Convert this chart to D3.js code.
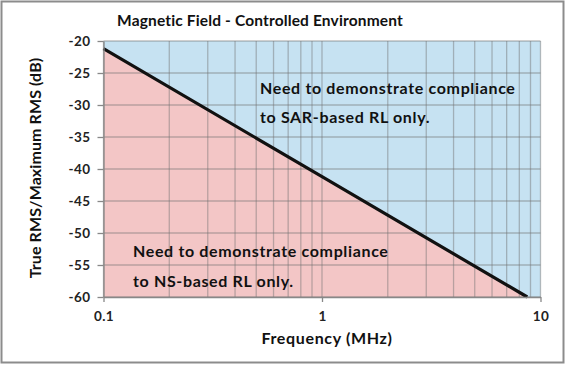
<!DOCTYPE html>
<html><head><meta charset="utf-8">
<script src="https://cdn.jsdelivr.net/npm/d3@7"></script>
<style>html,body{margin:0;padding:0;background:#fff}</style>
</head><body>
<svg id="c" width="566" height="365"></svg>
<script>
const title = "Magnetic Field - Controlled Environment";
const xLabel = "Frequency (MHz)";
const yLabel = "True RMS/Maximum RMS (dB)";
const lineFreq = [0.1, 1, 8.7];
const lineDb = [-21.2, -41.2, -60];
const yTicks = [-20, -25, -30, -35, -40, -45, -50, -55, -60];
const yTickLabels = ["-20", "-25", "-30", "-35", "-40", "-45", "-50", "-55", "-60"];
const xTicks = [0.1, 1, 10];
const xTickLabels = ["0.1", "1", "10"];
const upperText = ["Need to demonstrate compliance", "to SAR-based RL only."];
const lowerText = ["Need to demonstrate compliance", "to NS-based RL only."];

const font = "Lato, 'Open Sans', sans-serif";
const svg = d3.select("#c");
const L = 103.5, R = 540.5, T = 41, B = 297;
const x = d3.scaleLog().domain([0.1, 10]).range([L, R]);
const y = d3.scaleLinear().domain([-60, -20]).range([B, T]);

svg.append("rect").attr("x", 1.5).attr("y", 1.5).attr("width", 562).attr("height", 361)
  .attr("fill", "#fff").attr("stroke", "#8c8c8c").attr("stroke-width", 2);

// background blue
svg.append("rect").attr("x", L).attr("y", T).attr("width", R - L).attr("height", B - T).attr("fill", "#c6e2f2");
// pink area under line
const pts = lineFreq.map((f, i) => [f, lineDb[i]]);
const area = d3.area().x(d => x(d[0])).y0(y(-60)).y1(d => y(d[1]));
svg.append("path").datum(pts).attr("d", area).attr("fill", "#f3c6c6");

// grid
const minor = [];
[0.1, 1].forEach(d => { for (let k = 1; k <= 9; k++) minor.push(d * k); });
minor.push(10);
const g = svg.append("g").attr("stroke", "#707070").attr("stroke-opacity", 0.45).attr("stroke-width", 1.3);
minor.forEach(v => g.append("line").attr("x1", x(v)).attr("x2", x(v)).attr("y1", T).attr("y2", B));
yTicks.forEach(v => g.append("line").attr("x1", L).attr("x2", R).attr("y1", y(v)).attr("y2", y(v)));

// line
svg.append("path").datum(pts).attr("d", d3.line().x(d => x(d[0])).y(d => y(d[1])))
  .attr("fill", "none").attr("stroke", "#111").attr("stroke-width", 3.2);

// axes
const yAxis = d3.axisLeft(y).tickValues(yTicks).tickSize(6).tickSizeOuter(0).tickFormat((d, i) => yTickLabels[i]);
const ya = svg.append("g").attr("transform", `translate(${L},0)`).call(yAxis);
const xAxis = d3.axisBottom(x).tickValues(xTicks).tickSize(5).tickSizeOuter(0).tickFormat((d, i) => xTickLabels[i]);
const xa = svg.append("g").attr("transform", `translate(0,${B})`).call(xAxis);
[ya, xa].forEach(a => {
  a.select(".domain").attr("stroke", "#888").attr("stroke-width", 1.3);
  a.selectAll(".tick line").attr("stroke", "#888").attr("stroke-width", 1.3);
  a.selectAll("text").attr("font-family", font).attr("font-weight", "bold").attr("font-size", 13.5)
    .attr("letter-spacing", 0.4).attr("fill", "#222");
});
ya.selectAll("text").attr("x", -13).attr("dy", "0.36em");
xa.selectAll("text").attr("y", 14).attr("dy", "0.71em");

// titles
svg.append("text").attr("x", 260).attr("y", 26).attr("text-anchor", "middle")
  .attr("font-family", font).attr("font-weight", "bold").attr("font-size", 15.5).attr("letter-spacing", 0.15)
  .attr("fill", "#111").text(title);
svg.append("text").attr("x", 327).attr("y", 344).attr("text-anchor", "middle")
  .attr("font-family", font).attr("font-weight", "bold").attr("font-size", 16).attr("letter-spacing", 0.65)
  .attr("fill", "#111").text(xLabel);
svg.append("text").attr("transform", "translate(41,168) rotate(-90)").attr("text-anchor", "middle")
  .attr("font-family", font).attr("font-weight", "bold").attr("font-size", 16).attr("letter-spacing", 0.1)
  .attr("fill", "#111").text(yLabel);

// region texts
function block(lines, tx, ty, gap) {
  lines.forEach((s, i) => svg.append("text").attr("x", tx).attr("y", ty + i * gap)
    .attr("font-family", font).attr("font-weight", "bold").attr("font-size", 16).attr("letter-spacing", 0.65)
    .attr("fill", "#111").text(s));
}
block(upperText, 260, 94, 29);
block(lowerText, 133, 256.5, 30);
</script>
</body></html>
